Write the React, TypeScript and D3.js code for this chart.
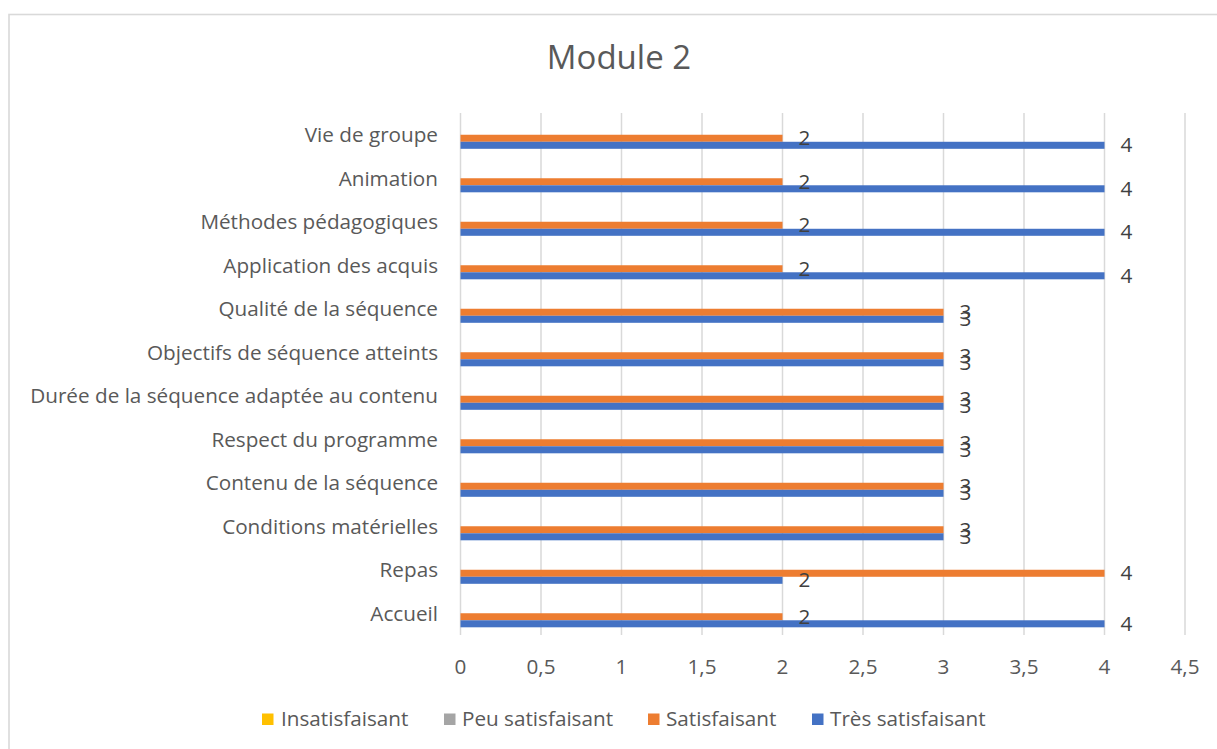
import React from "react";
import * as d3 from "d3";

const title = "Module 2";
const categories = [
  "Accueil",
  "Repas",
  "Conditions matérielles",
  "Contenu de la séquence",
  "Respect du programme",
  "Durée de la séquence adaptée au contenu",
  "Objectifs de séquence atteints",
  "Qualité de la séquence",
  "Application des acquis",
  "Méthodes pédagogiques",
  "Animation",
  "Vie de groupe",
];
const seriesNames = ["Insatisfaisant", "Peu satisfaisant", "Satisfaisant", "Très satisfaisant"];
const seriesColors = ["#FFC000", "#A5A5A5", "#ED7D31", "#4472C4"];
const insatisfaisant: (number | null)[] = [null, null, null, null, null, null, null, null, null, null, null, null];
const peuSatisfaisant: (number | null)[] = [null, null, null, null, null, null, null, null, null, null, null, null];
const satisfaisant: (number | null)[] = [2, 4, 3, 3, 3, 3, 3, 3, 2, 2, 2, 2];
const tresSatisfaisant: (number | null)[] = [4, 2, 3, 3, 3, 3, 3, 3, 4, 4, 4, 4];
const xTicks = [0, 0.5, 1, 1.5, 2, 2.5, 3, 3.5, 4, 4.5];

const W = 1217;
const H = 749;
const FONT = "'Open Sans', sans-serif";
const TEXT = "#595959";
const FS = 20.7;

export default function App() {
  const seriesValues = [insatisfaisant, peuSatisfaisant, satisfaisant, tresSatisfaisant];
  const x = d3.scaleLinear().domain([0, 4.5]).range([460.5, 1185]);
  const y = d3
    .scaleBand<string>()
    .domain([...categories].reverse())
    .range([113, 635])
    .paddingInner(0)
    .paddingOuter(0);
  const inner = d3
    .scaleBand<string>()
    .domain(seriesNames)
    .range([0, y.bandwidth()])
    .paddingInner(0)
    .paddingOuter(1.095);
  const locale = d3.formatLocale({ decimal: ",", thousands: " ", grouping: [3], currency: ["", "€"] });
  const fmt = locale.format("~g");

  const legendItems = [
    { sx: 262, tx: 281 },
    { sx: 444, tx: 462 },
    { sx: 648, tx: 666 },
    { sx: 812, tx: 830 },
  ];

  return (
    <svg
      width={W}
      height={H}
      style={{ position: "absolute", left: 0, top: 0, background: "#fff" }}
      fontFamily={FONT}
    >
      <rect x={0} y={0} width={W} height={H} fill="#fff" />
      <rect x={9} y={14.5} width={W + 50} height={H + 50} fill="#fff" stroke="#D9D9D9" strokeWidth={1.6} />
      <text x={619} y={60} textAnchor="middle" dominantBaseline="middle" fontSize={33} fill={TEXT}>
        {title}
      </text>
      {xTicks.map((t) => (
        <g key={t}>
          <line x1={x(t)} x2={x(t)} y1={113} y2={635} stroke="#D9D9D9" strokeWidth={1.5} />
          <text x={x(t)} y={668} textAnchor="middle" dominantBaseline="middle" fontSize={FS} fill={TEXT}>
            {fmt(t)}
          </text>
        </g>
      ))}
      {categories.map((c, i) => (
        <g key={c}>
          <text
            x={438}
            y={(y(c) as number) + y.bandwidth() / 2 + 2}
            textAnchor="end"
            dominantBaseline="middle"
            fontSize={FS}
            fill={TEXT}
          >
            {c}
          </text>
          {seriesNames.map((s, k) => {
            const v = seriesValues[k][i];
            if (v == null) return null;
            const by = (y(c) as number) + (inner(s) as number);
            return (
              <rect
                key={s}
                x={x(0)}
                y={by}
                width={x(v) - x(0)}
                height={inner.bandwidth()}
                fill={seriesColors[k]}
              />
            );
          })}
        </g>
      ))}
      {categories.map((c, i) =>
        seriesNames.map((s, k) => {
          const v = seriesValues[k][i];
          if (v == null) return null;
          const by = (y(c) as number) + (inner(s) as number) + inner.bandwidth() / 2;
          return (
            <text
              key={c + s}
              x={x(v) + 16}
              y={by + 1.5}
              dominantBaseline="middle"
              fontSize={FS}
              fill="#404040"
            >
              {fmt(v)}
            </text>
          );
        })
      )}
      {seriesNames.map((s, k) => (
        <g key={s}>
          <rect x={legendItems[k].sx} y={713.5} width={11.5} height={11.5} fill={seriesColors[k]} />
          <text x={legendItems[k].tx} y={720.5} dominantBaseline="middle" fontSize={FS} fill={TEXT}>
            {s}
          </text>
        </g>
      ))}
    </svg>
  );
}
